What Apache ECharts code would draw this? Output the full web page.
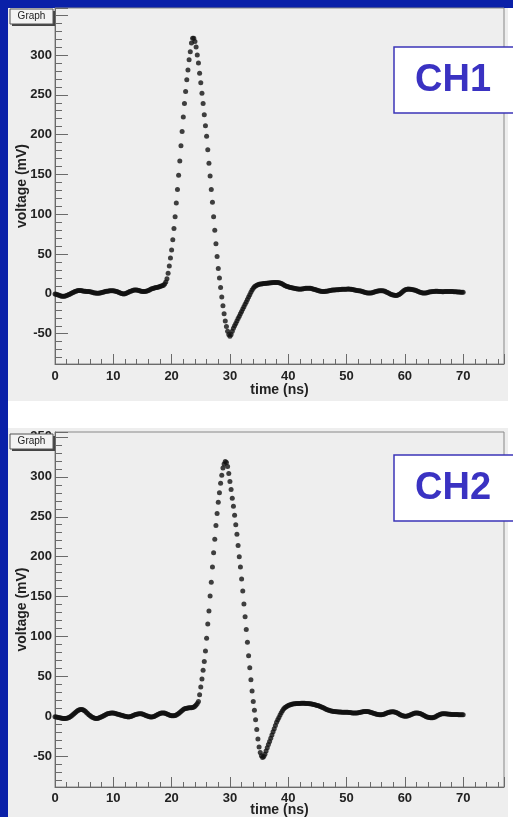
<!DOCTYPE html>
<html>
<head>
<meta charset="utf-8">
<script src="https://cdn.jsdelivr.net/npm/echarts@6/dist/echarts.min.js"></script>
<style>
  html, body { margin: 0; padding: 0; background: #fff; }
  #chart { width: 513px; height: 817px; }
</style>
</head>
<body>
<div id="chart"></div>
<script>
// sampling of the digitizer: one point every 0.2 ns starting at 0
const t0 = 0;
const dt = 0.2;

// CH1 voltage (mV)
const ch1 = [
  0, -0.5, -1, -1.5, -2, -2.5, -2.8, -3, -2.8, -2.5,
  -2, -1.5, -0.8, 0, 0.8, 1.5, 2.2, 3, 3.5, 4,
  4.2, 4.3, 4.2, 4, 3.7, 3.4, 3.2, 3, 3, 3,
  2.8, 2.5, 2, 1.6, 1.2, 1, 0.8, 0.8, 1, 1.3,
  1.7, 2.1, 2.5, 2.9, 3.2, 3.5, 3.8, 4, 4, 4.1,
  4, 3.8, 3.4, 3, 2.4, 1.8, 1.2, 0.6, 0.2, 0,
  0.3, 0.8, 1.5, 2.2, 2.9, 3.5, 4.1, 4.6, 4.9, 5,
  4.9, 4.6, 4.2, 3.8, 3.4, 3.1, 3, 3, 3.2, 3.6,
  4.2, 5, 5.8, 6.4, 6.9, 7.3, 7.6, 8, 8.4, 8.8,
  9.3, 9.8, 10.3, 11, 12.5, 15, 19, 26, 35, 45,
  55, 68, 82, 97, 114, 131, 149, 167, 186, 204,
  222, 239, 254, 269, 281, 294, 304, 315, 321, 321,
  317, 310, 300, 290, 277, 265, 252, 239, 225, 211,
  198, 181, 164, 148, 131, 115, 97, 80, 63, 47,
  32, 20, 8, -4, -15, -25, -34, -41, -47, -51,
  -53, -51, -47, -43, -40, -37, -34, -31, -28, -25,
  -22, -19, -16, -13, -10, -7, -4, -1, 2, 5,
  7, 9, 10, 11, 11.5, 12, 12.3, 12.5, 12.7, 13,
  13.2, 13.4, 13.5, 13.6, 13.8, 14, 14, 14.2, 14.3, 14.3,
  14.3, 14.2, 14, 13.6, 13, 12.3, 11.5, 10.7, 10, 9.3,
  9, 8.5, 8, 7.6, 7.3, 7, 6.8, 6.5, 6.3, 6.2,
  6, 6.1, 6.3, 6.5, 6.8, 7, 7.1, 7.2, 7.1, 7,
  6.7, 6.3, 5.9, 5.4, 5, 4.5, 4, 3.6, 3.3, 3.1,
  3, 3, 3.2, 3.4, 3.7, 4, 4.3, 4.6, 4.8, 5,
  5, 5.1, 5.2, 5.3, 5.5, 5.6, 5.8, 5.9, 6, 6,
  6, 6.1, 6.1, 6, 5.8, 5.5, 5.2, 4.9, 4.6, 4.3,
  4.1, 3.9, 3.6, 3.2, 2.8, 2.3, 1.9, 1.5, 1.2, 1,
  1, 1.1, 1.5, 2, 2.5, 3, 3.4, 3.8, 4, 4.1,
  4.1, 4, 3.7, 3.2, 2.5, 1.8, 1, 0.2, -0.5, -1.1,
  -1.5, -1.8, -2, -1.9, -1.5, -0.8, 0.2, 1.5, 2.8, 4,
  5, 5.7, 6, 6.1, 6, 5.8, 5.6, 5.3, 5, 4.6,
  4.1, 3.5, 2.8, 2.2, 1.7, 1.3, 1.1, 1.1, 1.3, 1.6,
  2, 2.3, 2.6, 2.8, 3, 3.1, 3.2, 3.2, 3.2, 3.1,
  3, 2.9, 2.8, 2.8, 2.9, 3, 3, 3, 3, 3,
  3, 2.9, 2.8, 2.7, 2.6, 2.5, 2.4, 2.3, 2.2, 2.1,
  2
];

// CH2 voltage (mV)
const ch2 = [
  0, -0.3, -0.7, -1.1, -1.5, -1.8, -2, -2.2, -2.3, -2.2,
  -2, -1.6, -1, -0.2, 0.8, 2, 3.3, 4.6, 5.8, 7,
  8, 8.7, 9, 9, 8.6, 7.8, 6.6, 5.2, 3.8, 2.5,
  1.3, 0.2, -0.7, -1.5, -2, -2.3, -2.3, -2, -1.5, -0.9,
  -0.2, 0.6, 1.4, 2.2, 2.9, 3.5, 4, 4.3, 4.5, 4.5,
  4.4, 4.1, 3.8, 3.4, 3, 2.6, 2.2, 1.7, 1.3, 0.9,
  0.5, 0.1, -0.2, -0.3, -0.2, 0.2, 0.8, 1.4, 2, 2.6,
  3, 3.4, 3.6, 3.7, 3.6, 3.2, 2.7, 2.1, 1.5, 0.9,
  0.4, 0, -0.3, -0.4, -0.2, 0.3, 1, 1.8, 2.6, 3.4,
  4, 4.4, 4.6, 4.6, 4.4, 4, 3.4, 2.7, 2, 1.5,
  1.1, 1, 1.1, 1.5, 2.2, 3, 4, 5.2, 6.5, 7.8,
  9, 9.8, 10.3, 10.6, 10.8, 11, 11, 11.2, 11.5, 12,
  13, 14.5, 16.5, 19, 27.5, 37, 47, 58, 69, 82,
  98, 116, 132, 151, 168, 187, 205, 222, 239, 254,
  268, 280, 292, 302, 311, 316, 319, 318, 313, 304,
  294, 284, 273, 263, 252, 240, 228, 214, 200, 187,
  172, 157, 141, 125, 109, 93, 76, 61, 46, 32,
  19, 8, -4, -16, -28, -38, -45, -49, -51, -50,
  -47, -43, -39, -35, -31, -27, -23, -19, -15, -11,
  -7, -4, -1, 2, 5, 7.5, 9.5, 11, 12, 13,
  14, 14.6, 15, 15.4, 15.7, 16, 16.2, 16.3, 16.4, 16.5,
  16.5, 16.6, 16.6, 16.6, 16.6, 16.5, 16.5, 16.4, 16.2, 16,
  15.8, 15.5, 15.2, 14.8, 14.4, 14, 13.5, 13, 12.4, 11.8,
  11.1, 10.4, 9.7, 9, 8.4, 7.9, 7.4, 7, 6.7, 6.5,
  6.3, 6.2, 6, 5.9, 5.8, 5.7, 5.6, 5.5, 5.5, 5.5,
  5.5, 5.4, 5.3, 5.1, 4.9, 4.7, 4.6, 4.5, 4.5, 4.6,
  4.8, 5.1, 5.4, 5.8, 6.1, 6.4, 6.5, 6.5, 6.4, 6.2,
  5.8, 5.3, 4.8, 4.3, 3.8, 3.3, 3, 2.7, 2.5, 2.4,
  2.5, 2.7, 3.1, 3.6, 4.2, 4.8, 5.3, 5.7, 5.9, 6,
  6, 5.8, 5.4, 4.8, 4.1, 3.3, 2.5, 1.8, 1.2, 0.8,
  0.5, 0.5, 0.7, 1.1, 1.7, 2.4, 3, 3.6, 4.1, 4.4,
  4.5, 4.5, 4.3, 3.9, 3.3, 2.6, 1.8, 1, 0.3, -0.3,
  -0.8, -1.2, -1.5, -1.5, -1.3, -0.9, -0.3, 0.5, 1.3, 2.1,
  2.8, 3.3, 3.6, 3.7, 3.7, 3.6, 3.4, 3.2, 3, 2.9,
  2.8, 2.7, 2.7, 2.6, 2.6, 2.6, 2.5, 2.5, 2.5, 2.5,
  2.5
];

// axis ranges (ROOT auto range of each graph)
const xRange = [0, 77];
const y1Range = [-88, 359];
const y2Range = [-88, 356];

const font = '"Liberation Sans", Arial, sans-serif';
const axisGray = '#6a6a6a';
const labelStyle = { fontFamily: font, fontWeight: 'bold', fontSize: 13, color: '#222' };

function toPoints(values) {
  return values.map((v, i) => [+(t0 + i * dt).toFixed(1), v]);
}

function xAxis(gridIndex, labelMargin, nameGap) {
  return {
    type: 'value', gridIndex: gridIndex,
    min: xRange[0], max: xRange[1], interval: 10,
    name: 'time (ns)', nameLocation: 'middle', nameGap: nameGap, nameMoveOverlap: false,
    nameTextStyle: { fontFamily: font, fontWeight: 'bold', fontSize: 14, color: '#222' },
    axisLine: { show: true, onZero: false, lineStyle: { color: axisGray, width: 1 } },
    axisTick: { show: true, inside: true, length: 10, lineStyle: { color: axisGray } },
    minorTick: { show: true, splitNumber: 5, length: 5, lineStyle: { color: axisGray } },
    splitLine: { show: false },
    axisLabel: Object.assign({ margin: labelMargin, showMaxLabel: false }, labelStyle)
  };
}

function yAxis(gridIndex, range) {
  return {
    type: 'value', gridIndex: gridIndex,
    min: range[0], max: range[1], splitNumber: 9,
    name: 'voltage (mV)', nameLocation: 'middle', nameGap: 26, nameMoveOverlap: false,
    nameTextStyle: { fontFamily: font, fontWeight: 'bold', fontSize: 14, color: '#222' },
    axisLine: { show: true, onZero: false, lineStyle: { color: axisGray, width: 1 } },
    axisTick: { show: true, inside: true, length: 13, lineStyle: { color: axisGray } },
    minorTick: { show: true, splitNumber: 5, length: 7, lineStyle: { color: axisGray } },
    splitLine: { show: false },
    axisLabel: Object.assign({ margin: 3, showMinLabel: false, showMaxLabel: false }, labelStyle)
  };
}

function dots(xi, values) {
  return {
    type: 'scatter', xAxisIndex: xi, yAxisIndex: xi,
    data: toPoints(values),
    symbol: 'circle', symbolSize: 5,
    itemStyle: { color: '#111' },
    silent: true, animation: false
  };
}

function graphLabel(y) {
  return [
    { type: 'rect', z: 50, shape: { x: 12, y: y + 2, width: 43, height: 15 }, style: { fill: '#444' } },
    { type: 'rect', z: 51, shape: { x: 10, y: y, width: 43, height: 15 },
      style: { fill: '#f3f3f3', stroke: '#555', lineWidth: 1 } },
    { type: 'text', z: 52, x: 31.5, y: y + 7.5,
      style: { text: 'Graph', fill: '#222', font: '10px ' + font, align: 'center', verticalAlign: 'middle' } }
  ];
}

function channelBox(y, text) {
  return [
    { type: 'rect', z: 60, shape: { x: 394, y: y, width: 130, height: 66 },
      style: { fill: '#fff', stroke: '#3b35b8', lineWidth: 1.5 } },
    { type: 'text', z: 61, x: 453, y: y + 34,
      style: { text: text, fill: '#3a32c2', font: 'bold 38px ' + font, align: 'center', verticalAlign: 'middle' } }
  ];
}

const chart = echarts.init(document.getElementById('chart'));
chart.setOption({
  backgroundColor: '#ffffff',
  animation: false,
  grid: [
    { left: 55, top: 8, width: 449, height: 356, show: true, borderColor: '#888', borderWidth: 1,
      backgroundColor: 'transparent', containLabel: false, outerBoundsMode: 'none' },
    { left: 55, top: 432, width: 449, height: 355, show: true, borderColor: '#888', borderWidth: 1,
      backgroundColor: 'transparent', containLabel: false, outerBoundsMode: 'none' }
  ],
  xAxis: [xAxis(0, 6, 19), xAxis(1, 5, 16)],
  yAxis: [yAxis(0, y1Range), yAxis(1, y2Range)],
  series: [dots(0, ch1), dots(1, ch2)],
  graphic: [
    { type: 'rect', z: -10, shape: { x: 0, y: 0, width: 8, height: 817 }, style: { fill: '#0a20a8' } },
    { type: 'rect', z: -10, shape: { x: 0, y: 0, width: 513, height: 8 }, style: { fill: '#0a20a8' } },
    { type: 'rect', z: -10, shape: { x: 8, y: 8, width: 500, height: 393 }, style: { fill: '#eeeeee' } },
    { type: 'rect', z: -10, shape: { x: 8, y: 428, width: 500, height: 389 }, style: { fill: '#eeeeee' } }
  ].concat(graphLabel(9), graphLabel(434), channelBox(47, 'CH1'), channelBox(455, 'CH2'))
});
</script>
</body>
</html>
